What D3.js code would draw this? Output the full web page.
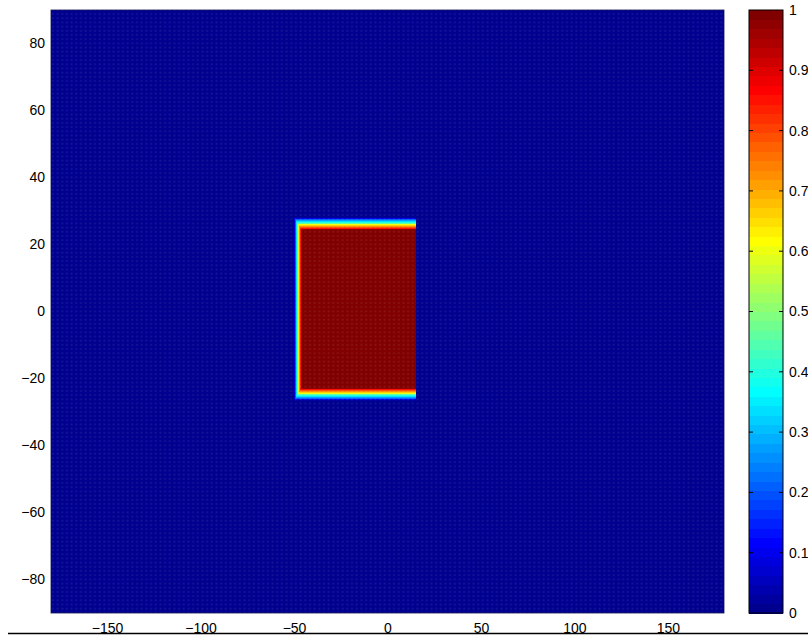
<!DOCTYPE html>
<html><head><meta charset="utf-8">
<script src="https://cdn.jsdelivr.net/npm/d3@7"></script>
<style>
html,body{margin:0;padding:0;background:#fff;}
svg{display:block;font-family:"Liberation Sans",Arial,Helvetica,sans-serif;}
</style></head>
<body>
<svg id="chart" width="808" height="637"></svg>
<script>
// ---- data ----
const lonDomain = [-180, 180];
const latDomain = [-90, 90];
// field = min(lonProfile(lon), latProfile(lat)), piecewise linear through nodes
const lonNodes  = [-180, -50.0, -46.2, 15.3, 15.31, 180];
const lonValues = [0, 0, 1, 1, 0, 0];
const latNodes  = [-90, -26.7, -22.8, 24.3, 28.2, 90];
const latValues = [0, 0, 1, 1, 0, 0];
const xTicks = [-150, -100, -50, 0, 50, 100, 150];
const yTicks = [-80, -60, -40, -20, 0, 20, 40, 60, 80];
const cbTicks = [0, 0.1, 0.2, 0.3, 0.4, 0.5, 0.6, 0.7, 0.8, 0.9, 1];
const cbLabels = ["0", "0.1", "0.2", "0.3", "0.4", "0.5", "0.6", "0.7", "0.8", "0.9", "1"];
const lonStep = 0.5, latStep = 0.25;

// ---- jet colormap (64) ----
function jetRGB(i) { // i = 1..64
  let r = 0, g = 0, b = 0;
  if (i <= 8) { b = 0.5 + i / 16; }
  else if (i <= 24) { g = (i - 8) / 16; b = 1; }
  else if (i <= 40) { r = (i - 24) / 16; g = 1; b = 1 - (i - 24) / 16; }
  else if (i <= 56) { r = 1; g = 1 - (i - 40) / 16; }
  else { r = 1 - (i - 56) / 16; }
  return d3.rgb(r * 255, g * 255, b * 255).formatHex();
}
const jet = d3.range(1, 65).map(jetRGB);
const colorIndex = v => Math.max(0, Math.min(63, Math.floor(v * 64)));

const svg = d3.select("#chart");
const W = 808, H = 637;
const plot = {left: 51, right: 724, top: 10, bottom: 613};
const x = d3.scaleLinear().domain(lonDomain).range([plot.left, plot.right]);
const y = d3.scaleLinear().domain(latDomain).range([plot.bottom, plot.top]);
const lonProf = d3.scaleLinear().domain(lonNodes).range(lonValues).clamp(true);
const latProf = d3.scaleLinear().domain(latNodes).range(latValues).clamp(true);

// ---- field cells (runs merged per row) ----
const cells = [];
for (let la = latDomain[0]; la < latDomain[1] - 1e-9; la += latStep) {
  const lat0 = la, lat1 = la + latStep, latc = la + latStep / 2;
  const lv = latProf(latc);
  let runStart = lonDomain[0], runIdx = null;
  for (let lo = lonDomain[0]; lo < lonDomain[1] - 1e-9; lo += lonStep) {
    const idx = colorIndex(Math.min(lv, lonProf(lo + lonStep / 2)));
    if (runIdx === null) { runIdx = idx; runStart = lo; }
    else if (idx !== runIdx) {
      cells.push({lon0: runStart, lon1: lo, lat0, lat1, idx: runIdx});
      runIdx = idx; runStart = lo;
    }
  }
  cells.push({lon0: runStart, lon1: lonDomain[1], lat0, lat1, idx: runIdx});
}

svg.append("g").attr("shape-rendering", "crispEdges")
  .selectAll("rect").data(cells).join("rect")
  .attr("x", d => x(d.lon0))
  .attr("y", d => y(d.lat1))
  .attr("width", d => x(d.lon1) - x(d.lon0))
  .attr("height", d => y(d.lat0) - y(d.lat1))
  .attr("fill", d => jet[d.idx]);

// faint mesh texture
const defs = svg.append("defs");
const pat = defs.append("pattern").attr("id", "mesh").attr("patternUnits", "userSpaceOnUse")
  .attr("width", x(lonDomain[0] + 2.5) - x(lonDomain[0]))
  .attr("height", y(latDomain[1] - 1.25) - y(latDomain[1]));
pat.append("circle").attr("cx", 1.5).attr("cy", 1.5).attr("r", 1.1).attr("fill", "#ffffff").attr("opacity", 0.08);
svg.append("rect").attr("x", plot.left).attr("y", plot.top)
  .attr("width", plot.right - plot.left).attr("height", plot.bottom - plot.top)
  .attr("fill", "url(#mesh)");
svg.append("rect").attr("x", plot.left).attr("y", plot.top)
  .attr("width", plot.right - plot.left).attr("height", plot.bottom - plot.top)
  .attr("fill", "none").attr("stroke", "#101050").attr("stroke-width", 0.8);

// ---- axes ----
const yAxis = svg.append("g").attr("transform", `translate(${plot.left - 6},0)`)
  .call(d3.axisLeft(y).tickValues(yTicks).tickSize(0).tickPadding(0));
yAxis.select(".domain").remove();
yAxis.selectAll("text").attr("font-size", 14).attr("font-family", "Liberation Sans, Arial, sans-serif").attr("fill", "#000");

const xAxis = svg.append("g").attr("transform", `translate(0,${H - 14})`)
  .call(d3.axisBottom(x).tickValues(xTicks).tickSize(0).tickPadding(0));
xAxis.select(".domain").remove();
xAxis.selectAll("text").attr("font-size", 14).attr("font-family", "Liberation Sans, Arial, sans-serif").attr("fill", "#000");

// bottom rule
svg.append("line").attr("x1", 8).attr("x2", W).attr("y1", 633.5).attr("y2", 633.5)
  .attr("stroke", "#000").attr("stroke-width", 1.3);

// ---- colorbar ----
const cb = {left: 749, right: 783};
const cy = d3.scaleLinear().domain([0, 1]).range([plot.bottom, plot.top]);
svg.append("g").attr("shape-rendering", "crispEdges")
  .selectAll("rect").data(jet).join("rect")
  .attr("x", cb.left).attr("width", cb.right - cb.left)
  .attr("y", (c, i) => cy((i + 1) / 64))
  .attr("height", (c, i) => cy(i / 64) - cy((i + 1) / 64) + 0.5)
  .attr("fill", c => c);
svg.append("rect").attr("x", cb.left).attr("y", plot.top)
  .attr("width", cb.right - cb.left).attr("height", plot.bottom - plot.top)
  .attr("fill", "none").attr("stroke", "#000").attr("stroke-width", 1);
const cbt = svg.append("g");
cbt.selectAll("line.l").data(cbTicks.slice(1, -1)).join("line").attr("class", "l")
  .attr("x1", cb.left).attr("x2", cb.left + 4).attr("y1", d => cy(d)).attr("y2", d => cy(d))
  .attr("stroke", "#000").attr("stroke-width", 1);
cbt.selectAll("line.r").data(cbTicks.slice(1, -1)).join("line").attr("class", "r")
  .attr("x1", cb.right - 4).attr("x2", cb.right).attr("y1", d => cy(d)).attr("y2", d => cy(d))
  .attr("stroke", "#000").attr("stroke-width", 1);
cbt.selectAll("text").data(cbTicks).join("text")
  .attr("x", cb.right + 6).attr("y", d => cy(d)).attr("dy", "0.35em")
  .attr("font-size", 14).attr("fill", "#000")
  .text((d, i) => cbLabels[i]);
</script>
</body></html>
